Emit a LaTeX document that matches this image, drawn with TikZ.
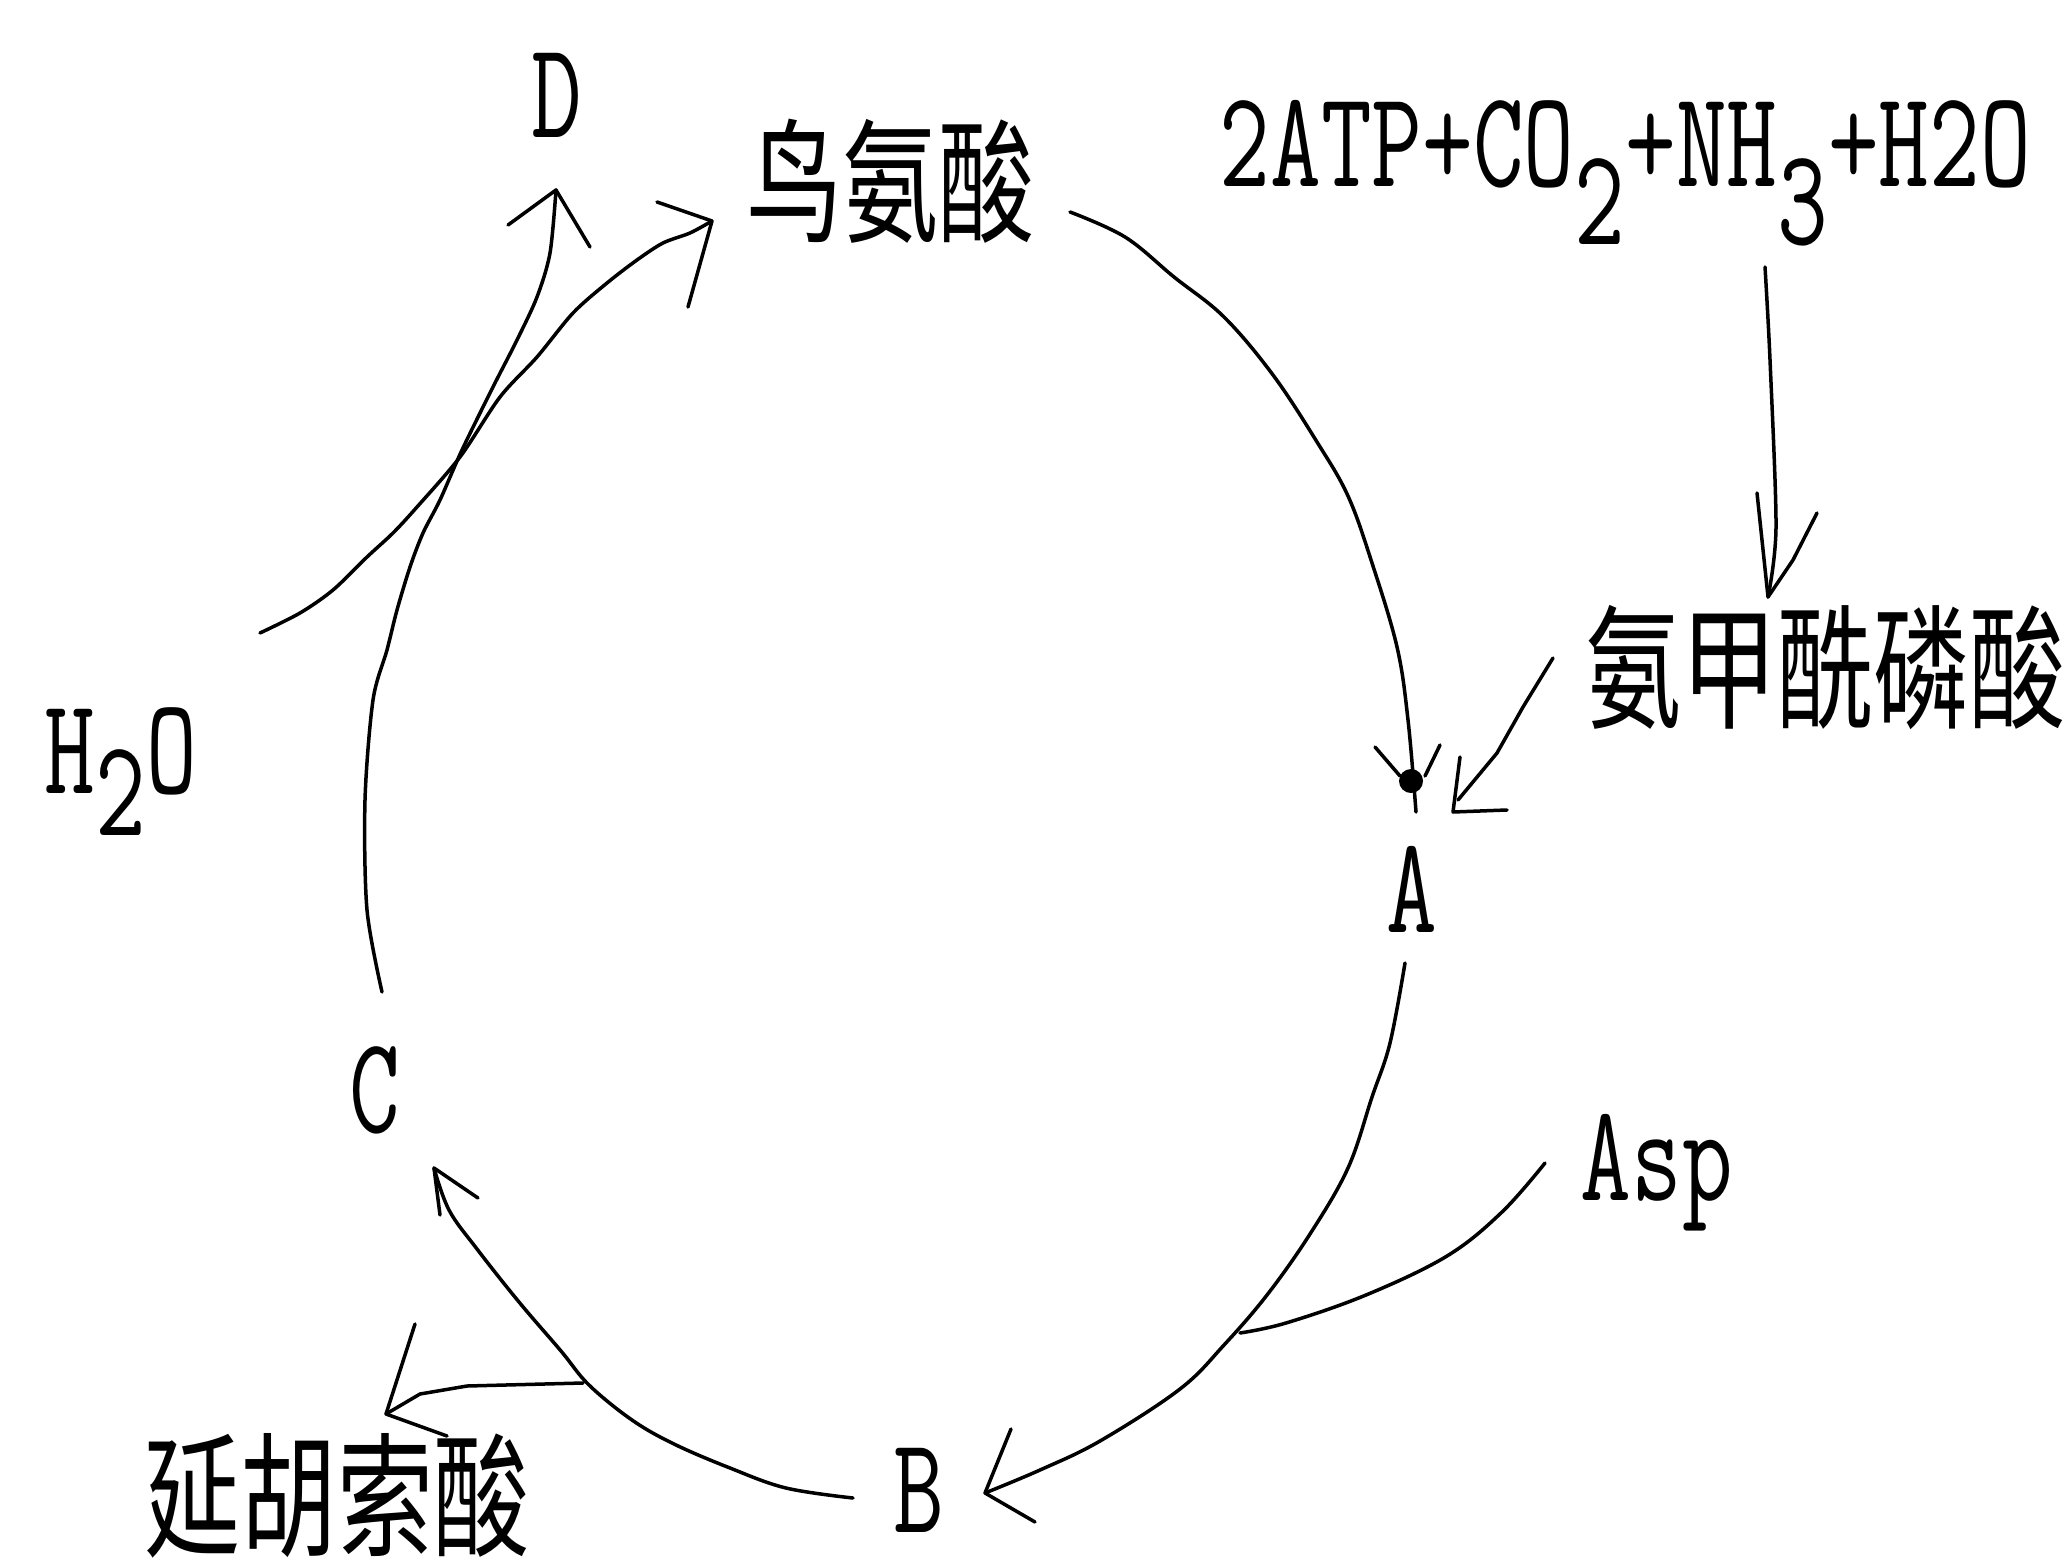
\documentclass[tikz,border=0pt]{standalone}
\usepackage{fontspec}
\usepackage{graphicx}
\newfontfamily\cjk{Noto Sans CJK SC}
\newcommand\vst[1]{\scalebox{1}[1.4]{#1}}
\newcommand\lowr[1]{\raisebox{-0.41cm}{#1}}
\tikzset{
  lbl/.style={inner sep=0pt, font=\fontsize{28pt}{30pt}\selectfont\ttfamily},
  cn/.style={inner sep=0pt, font=\fontsize{27.3pt}{30pt}\selectfont\cjk},
  ln/.style={line width=0.035cm, line cap=round, line join=round},
}
\begin{document}
\begin{tikzpicture}[x=0.01cm, y=-0.01cm]
\fill[white] (0,0) rectangle (2070,1564);
\useasboundingbox (0,0) rectangle (2070,1564);

% labels
\node[lbl, anchor=base] (D) at (557,138) {\vst{D}};
\node[cn] (orn) at (890,181) {\vst{鸟氨酸}};
\node[lbl, anchor=base west] (form) at (1219,187) {\vst{2ATP+CO\lowr{2}+NH\lowr{3}+H2O}};
\node[cn] (cp) at (1825,668) {\vst{氨甲酰磷酸}};
\node[lbl, anchor=base] (A) at (1412,932) {\vst{A}};
\node[lbl, anchor=base west] (asp) at (1580,1200) {\vst{Asp}};
\node[lbl, anchor=base] (B) at (919,1532) {\vst{B}};
\node[lbl, anchor=base] (C) at (375,1132) {\vst{C}};
\node[cn] (fum) at (337,1496) {\vst{延胡索酸}};
\node[lbl, anchor=base west] (h2o) at (44,793) {\vst{H\raisebox{-0.3cm}{2}O}};

% named end points
\coordinate (ornE) at (1070,212);
\coordinate (Atip) at (1416,812);
\coordinate (formS) at (1765,267);
\coordinate (cpTip) at (1768,597);
\coordinate (cpS) at (1553,658);
\coordinate (cpA) at (1453,812);
\coordinate (AS) at (1405,963);
\coordinate (Btip) at (985,1493);
\coordinate (aspS) at (1545,1163);
\coordinate (aspE) at (1240,1333);
\coordinate (BS) at (853,1498);
\coordinate (Ctip) at (434,1168);
\coordinate (brS) at (583,1383);
\coordinate (fumTip) at (386,1414);
\coordinate (CS) at (382,992);
\coordinate (Dtip) at (556,190);
\coordinate (hS) at (260,633);
\coordinate (ornTip) at (712,221);

% ornithine -> A
\draw[ln] plot[smooth, tension=0.6] coordinates {(ornE) (1125,237) (1174,277) (1224,317) (1273,375) (1317,442) (1348,496) (1372,563) (1397,647) (1408,720) (Atip)};
\draw[ln] (1375,747) -- (1400,776);
\draw[ln] (1440,745) -- (1425,776);
\fill (1411,781) circle[radius=0.12cm];

% formula -> carbamoyl phosphate
\draw[ln] plot[smooth, tension=0.5] coordinates {(formS) (1770,360) (1776,527) (cpTip)};
\draw[ln] (1757,493) -- (cpTip) -- (1793,560) -- (1817,513);

% carbamoyl phosphate -> A
\draw[ln] (cpS) -- (1523,707) -- (1497,753) -- (1458,800);
\draw[ln] (1460,757) -- (cpA) -- (1507,810);

% A -> B
\draw[ln] plot[smooth, tension=0.6] coordinates {(AS) (1390,1043) (1372,1097) (1348,1168) (1310,1234) (1267,1295) (1224,1345) (1180,1389) (1100,1441) (1040,1470) (Btip)};
\draw[ln] (1011,1429) -- (Btip) -- (1035,1522);

% Asp joins
\draw[ln] plot[smooth, tension=0.6] coordinates {(aspS) (1502,1212) (1447,1256) (1366,1295) (1286,1323) (aspE)};

% B -> C
\draw[ln] plot[smooth, tension=0.6] coordinates {(BS) (786,1488) (730,1468) (674,1444) (632,1420) (589,1385) (561,1351) (519,1302) (477,1249) (449,1210) (Ctip)};
\draw[ln] (440,1215) -- (Ctip) -- (478,1198);

% branch -> fumarate
\draw[ln] (brS) -- (467,1386) -- (420,1394) -- (fumTip);
\draw[ln] (415,1324) -- (fumTip) -- (447,1436);

% C -> D
\draw[ln] plot[smooth, tension=0.5] coordinates {(CS) (367,910) (365,800) (373,700) (387,650) (397,610) (410,567) (423,533) (440,500) (462,450) (493,387) (517,340) (537,297) (550,253) (Dtip)};
\draw[ln] (508,225) -- (Dtip) -- (590,247);

% H2O -> ornithine
\draw[ln] plot[smooth, tension=0.5] coordinates {(hS) (300,613) (333,590) (367,557) (393,533) (417,507) (460,457) (500,397) (537,357) (573,313) (607,283) (637,260) (663,243) (690,233) (ornTip)};
\draw[ln] (657,202) -- (ornTip) -- (688,307);
\end{tikzpicture}
\end{document}
